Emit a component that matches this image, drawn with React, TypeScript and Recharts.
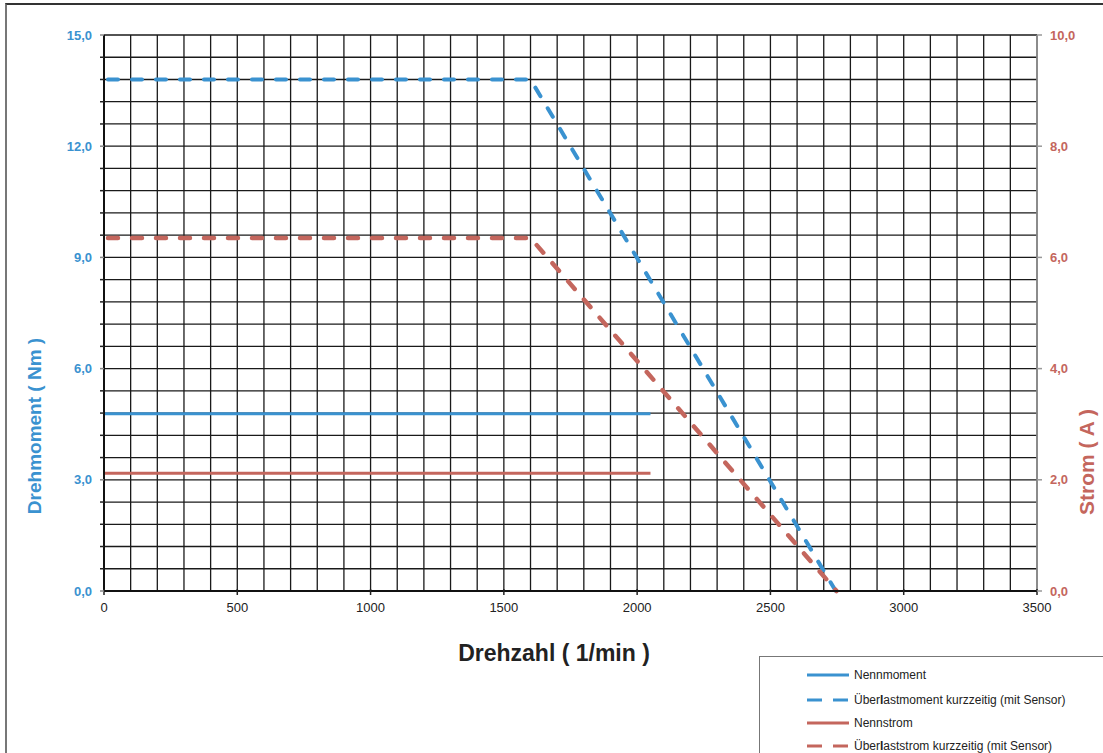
import React from "react"
import { ComposedChart, Line, XAxis, YAxis, CartesianGrid } from "recharts"

const BLUE = "#3a92d0"
const RED = "#c4665d"

// grid / tick steps
const rpmTicks = Array.from({ length: 36 }, (_, i) => i * 100)
const torqueTicks = Array.from({ length: 26 }, (_, i) => +(i * 0.6).toFixed(1))
const currentTicks = Array.from({ length: 26 }, (_, i) => +(i * 0.4).toFixed(1))

// series
const nennmomentRpm = [0, 2050]
const nennmomentNm = [4.78, 4.78]
const ueberMomentRpm = [15, 1600, 2745]
const ueberMomentNm = [13.8, 13.8, 0]
const nennstromRpm = [0, 2050]
const nennstromA = [2.12, 2.12]
const ueberStromRpm = [15, 1600, 2748]
const ueberStromA = [6.35, 6.35, 0]

const zip = (xs: number[], ys: number[]) => xs.map((rpm, i) => ({ rpm, v: ys[i] }))

const series = [
  { name: "Nennmoment", data: zip(nennmomentRpm, nennmomentNm), axis: "left", color: BLUE, dash: undefined, width: 3 },
  { name: "Überlastmoment kurzzeitig (mit Sensor)", data: zip(ueberMomentRpm, ueberMomentNm), axis: "left", color: BLUE, dash: "10 14", width: 4 },
  { name: "Nennstrom", data: zip(nennstromRpm, nennstromA), axis: "right", color: RED, dash: undefined, width: 3 },
  { name: "Überlaststrom kurzzeitig (mit Sensor)", data: zip(ueberStromRpm, ueberStromA), axis: "right", color: RED, dash: "10 14", width: 4.5 },
]

const fmt = (v: number) => v.toFixed(1).replace(".", ",")

function XTick({ x, y, payload }: any) {
  const v = payload.value
  if (v % 500 !== 0) return <g />
  return (
    <g>
      <line x1={x} x2={x} y1={y - 2} y2={y + 4} stroke="#222" strokeWidth={1.5} />
      <text x={x} y={y + 16} dy="0.35em" textAnchor="middle" fill="#222" fontSize={13}>{v}</text>
    </g>
  )
}

function LeftTick({ x, y, payload }: any) {
  const v = payload.value
  const major = Math.round(v * 10) % 30 === 0
  return (
    <g>
      <line x1={x - 4} x2={x} y1={y} y2={y} stroke={major ? "#888" : "#222"} strokeWidth={1.5} />
      {major && (
        <text x={x - 12} y={y} dy="0.35em" textAnchor="end" fill={BLUE} fontWeight="bold" fontSize={13}>{fmt(v)}</text>
      )}
    </g>
  )
}

function RightTick({ x, y, payload }: any) {
  const v = payload.value
  const major = Math.round(v * 10) % 20 === 0
  if (!major) return <g />
  return (
    <g>
      <line x1={x} x2={x + 5} y1={y} y2={y} stroke="#999" strokeWidth={1.5} />
      <text x={x + 13} y={y} dy="0.35em" textAnchor="start" fill={RED} fontWeight="bold" fontSize={13}>{fmt(v)}</text>
    </g>
  )
}

function BoldL({ text }: { text: string }) {
  // the source renders the first "l" heavier
  const i = text.indexOf("l")
  if (i < 0) return <>{text}</>
  return <>{text.slice(0, i)}<b>l</b>{text.slice(i + 1)}</>
}

export default function App() {
  return (
    <div style={{ position: "absolute", left: 0, top: 0, width: 1103, height: 753, overflow: "hidden", background: "#fff", fontFamily: "'Liberation Sans', Arial, sans-serif" }}>
      <div style={{ position: "absolute", left: 5, top: 3, width: 1200, height: 900, borderLeft: "2px solid #777", borderTop: "2px solid #333" }} />
      <div style={{ position: "absolute", left: 0, top: 0 }}>
        <ComposedChart width={1103} height={753} margin={{ top: 35, left: 44, right: 6, bottom: 132 }}>
          <CartesianGrid yAxisId="left" stroke="#1a1a1a" strokeWidth={1.3} />
          <XAxis dataKey="rpm" type="number" domain={[0, 3500]} ticks={rpmTicks} interval={0} height={30}
            tickSize={0} tickMargin={0} tickLine={false} tick={<XTick />} axisLine={{ stroke: "#111", strokeWidth: 2 }} />
          <YAxis yAxisId="left" type="number" domain={[0, 15]} ticks={torqueTicks} interval={0} width={60}
            tickSize={0} tickMargin={0} tickLine={false} tick={<LeftTick />} axisLine={{ stroke: "#111", strokeWidth: 2 }} />
          <YAxis yAxisId="right" orientation="right" type="number" domain={[0, 10]} ticks={currentTicks} interval={0} width={60}
            tickSize={0} tickMargin={0} tickLine={false} tick={<RightTick />} axisLine={{ stroke: "#999", strokeWidth: 1.5 }} />
          {series.map((s) => (
            <Line key={s.name} data={s.data} dataKey="v" yAxisId={s.axis} type="linear" stroke={s.color}
              strokeWidth={s.width} strokeDasharray={s.dash} strokeLinecap={s.dash ? "round" : "butt"}
              dot={false} activeDot={false} isAnimationActive={false} />
          ))}
        </ComposedChart>
      </div>

      <div style={{ position: "absolute", left: 35, top: 426, transform: "translate(-50%, -50%) rotate(-90deg)", whiteSpace: "nowrap", color: BLUE, fontWeight: "bold", fontSize: 19 }}>
        Drehmoment ( Nm )
      </div>
      <div style={{ position: "absolute", left: 1087, top: 462, transform: "translate(-50%, -50%) rotate(-90deg)", whiteSpace: "nowrap", color: RED, fontWeight: "bold", fontSize: 21 }}>
        Strom ( A )
      </div>
      <div style={{ position: "absolute", left: 554, top: 653, transform: "translate(-50%, -50%)", whiteSpace: "nowrap", color: "#222", fontWeight: "bold", fontSize: 23 }}>
        Drehzahl ( 1/min )
      </div>

      <div style={{ position: "absolute", left: 759, top: 656, width: 400, height: 200, borderLeft: "1.5px solid #777", borderTop: "1.5px solid #777" }}>
        {series.map((s, i) => (
          <div key={s.name} style={{ position: "absolute", left: 46, top: [18, 43, 66, 89][i] - 8, height: 16, display: "flex", alignItems: "center", fontSize: 12, color: "#222", whiteSpace: "nowrap" }}>
            <svg width={44} height={8} style={{ marginRight: 4 }}>
              <line x1={1} x2={43} y1={4} y2={4} stroke={s.color} strokeWidth={3} strokeDasharray={s.dash ? "15 11" : undefined} />
            </svg>
            {s.dash ? <BoldL text={s.name} /> : s.name}
          </div>
        ))}
      </div>
    </div>
  )
}
